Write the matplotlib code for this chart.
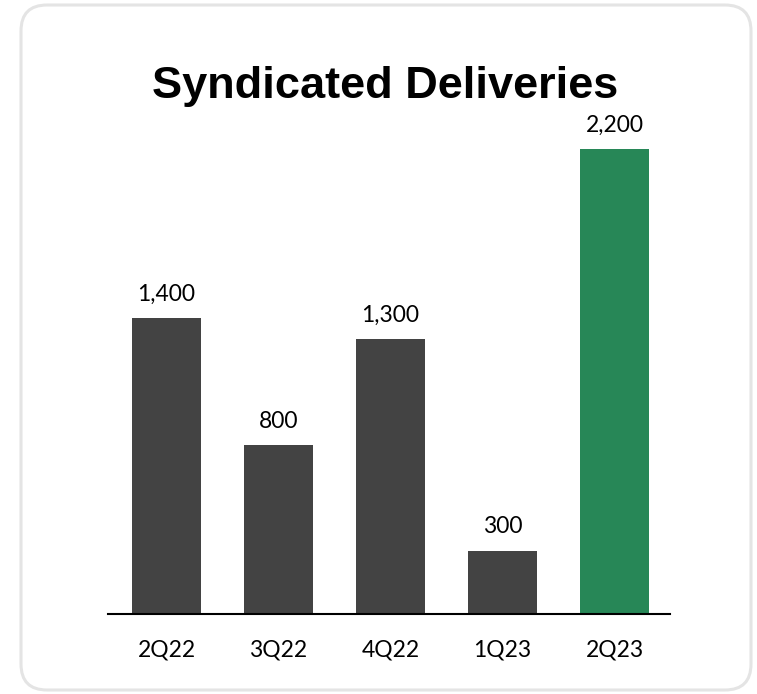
import matplotlib.pyplot as plt
from matplotlib.patches import FancyBboxPatch

quarters = ["2Q22", "3Q22", "4Q22", "1Q23", "2Q23"]
deliveries = [1400, 800, 1300, 300, 2200]
bar_colors = ["#434343", "#434343", "#434343", "#434343", "#278757"]

fig = plt.figure(figsize=(7.57, 6.94), dpi=100)
fig.patch.set_facecolor("white")

# rounded card behind the chart (inch coordinates so corners stay round)
card = FancyBboxPatch((0.21, 0.04), 7.30, 6.85,
                      boxstyle="round,pad=0,rounding_size=0.26",
                      transform=fig.dpi_scale_trans, zorder=-5,
                      facecolor="white", edgecolor="#e4e4e4", linewidth=2.2)
fig.patches.append(card)

fig.text(385 / 757, 1 - 98 / 694, "Syndicated Deliveries", ha="center", va="baseline",
         fontsize=32.5, fontweight="bold", family="Liberation Sans")

ax = fig.add_axes([108 / 757, 80 / 694, 562 / 757, 504 / 694])
x = list(range(len(quarters)))
bars = ax.bar(x, deliveries, width=0.616, color=bar_colors)

for b, v in zip(bars, deliveries):
    ax.annotate(f"{v:,}", (b.get_x() + b.get_width() / 2, v),
                xytext=(0, 12.5), textcoords="offset points",
                ha="center", va="baseline", fontsize=16.5, family="Lato")

ax.set_xlim(-0.522, 4.496)
ax.set_ylim(0, 504 / (465 / 2200))
ax.set_xticks(x)
ax.set_xticklabels(quarters, fontsize=16.5, family="Lato")
ax.tick_params(axis="x", length=0, pad=18)
ax.set_yticks([])
for s in ["top", "right", "left"]:
    ax.spines[s].set_visible(False)
ax.spines["bottom"].set_linewidth(1.5)
ax.patch.set_alpha(0)

fig.savefig("out.png", dpi=100)
